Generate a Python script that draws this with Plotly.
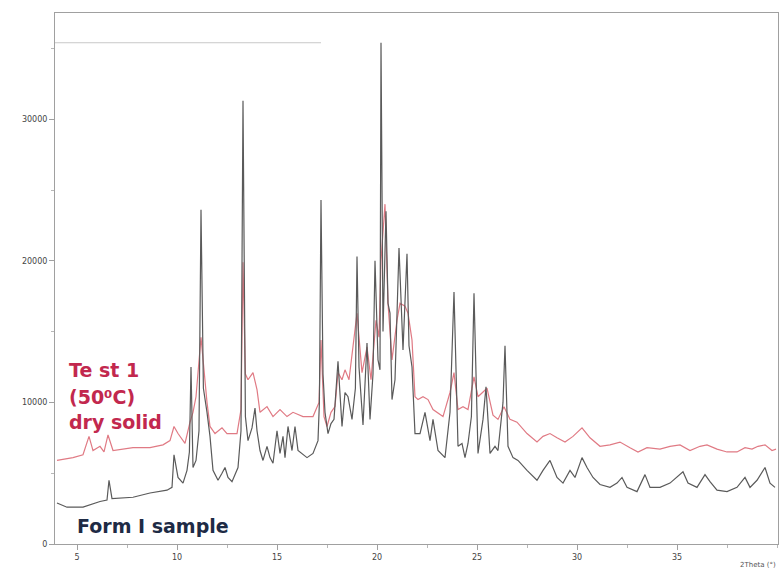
import plotly.graph_objects as go

# Powder X-ray diffraction patterns, 2-theta (degrees) vs. intensity (counts)
form1_theta = [4.0, 4.5, 5.3, 6.15, 6.5, 6.6, 6.75, 7.8, 8.65, 9.5, 9.75, 9.85, 10.05, 10.3, 10.5,
               10.62, 10.7, 10.8, 10.95, 11.1, 11.2, 11.32, 11.5, 11.65, 11.8, 12.05, 12.25, 12.4,
               12.55, 12.75, 13.05, 13.2, 13.3, 13.42, 13.55, 13.75, 13.9, 14.0, 14.15, 14.3, 14.5,
               14.65, 14.8, 15.0, 15.15, 15.3, 15.4, 15.55, 15.75, 15.9, 16.05, 16.5, 16.8, 17.05,
               17.12, 17.2, 17.3, 17.4, 17.55, 17.7, 17.85, 18.05, 18.25, 18.4, 18.55, 18.75, 18.92,
               19.0, 19.1, 19.3, 19.5, 19.65, 19.8, 19.9, 20.05, 20.15, 20.2, 20.3, 20.45, 20.55,
               20.65, 20.75, 20.9, 21.1, 21.3, 21.5, 21.6, 21.75, 21.9, 22.15, 22.4, 22.65, 22.8,
               23.05, 23.4, 23.65, 23.85, 24.05, 24.25, 24.4, 24.55, 24.72, 24.85, 25.05, 25.3,
               25.45, 25.65, 25.9, 26.05, 26.3, 26.4, 26.55, 26.8, 27.05, 27.5, 28.0, 28.3, 28.65,
               29.0, 29.3, 29.65, 29.9, 30.25, 30.5, 30.8, 31.15, 31.65, 32.0, 32.25, 32.5, 33.0,
               33.4, 33.65, 34.15, 34.65, 35.0, 35.3, 35.55, 36.0, 36.4, 36.65, 37.0, 37.5, 38.0,
               38.4, 38.65, 39.0, 39.4, 39.65, 39.9]
form1_counts = [2900, 2600, 2600, 3000, 3100, 4500, 3200, 3300, 3600, 3800, 4000, 6300, 4700, 4300,
                5200, 6500, 12500, 5400, 5900, 8000, 23600, 11000, 9300, 7600, 5200, 4500, 5000, 5400,
                4700, 4400, 5400, 8000, 31300, 9000, 7300, 8200, 9600, 8000, 6600, 5900, 6900, 6100,
                5700, 8000, 6400, 7600, 6100, 8300, 6600, 8300, 6600, 6100, 6400, 7300, 10000, 24300,
                12000, 9300, 7800, 8500, 8800, 12900, 8300, 10700, 10400, 8800, 11000, 20300, 12500,
                8400, 14200, 8800, 12000, 20000, 13000, 12300, 35400, 15000, 23500, 17000, 16300,
                10200, 11600, 20900, 13700, 20500, 14000, 12500, 7800, 7800, 9300, 7300, 8800, 6600,
                6100, 9300, 17800, 6900, 7100, 6100, 7100, 9000, 17700, 6400, 8800, 11100, 6400,
                6900, 6600, 10000, 14000, 6900, 6100, 5900, 5200, 4500, 5200, 5900, 4700, 4300, 5200,
                4700, 6100, 5400, 4700, 4200, 4000, 4300, 4700, 4000, 3700, 4900, 4000, 4000, 4300,
                4700, 5100, 4300, 4000, 4900, 4400, 3800, 3700, 4000, 4700, 4000, 4500, 5400, 4300,
                4000]

test1_theta = [4.0, 4.8, 5.3, 5.45, 5.6, 5.8, 6.15, 6.35, 6.55, 6.8, 7.8, 8.65, 9.3, 9.65, 9.85,
               10.05, 10.4, 10.65, 10.8, 10.95, 11.2, 11.5, 11.65, 11.9, 12.25, 12.5, 13.0, 13.2,
               13.3, 13.42, 13.55, 13.8, 14.0, 14.15, 14.5, 14.8, 15.15, 15.5, 15.8, 16.3, 16.8,
               17.1, 17.2, 17.35, 17.5, 17.7, 17.9, 18.05, 18.25, 18.4, 18.6, 19.0, 19.25, 19.5,
               19.7, 19.95, 20.1, 20.2, 20.4, 20.55, 20.75, 21.0, 21.15, 21.4, 21.55, 21.75, 21.9,
               22.05, 22.3, 22.55, 22.8, 23.3, 23.65, 23.85, 24.05, 24.3, 24.55, 24.85, 25.05, 25.5,
               25.8, 26.05, 26.35, 26.65, 27.0, 27.5, 28.0, 28.3, 28.65, 29.0, 29.4, 29.8, 30.25,
               30.65, 31.15, 31.65, 32.15, 32.65, 33.05, 33.5, 34.15, 34.65, 35.15, 35.65, 36.15,
               36.5, 37.0, 37.5, 38.0, 38.4, 38.75, 39.05, 39.4, 39.75, 39.95]
test1_counts = [5900, 6100, 6300, 6900, 7600, 6600, 6900, 6500, 7700, 6600, 6800, 6800, 7000, 7300,
                8300, 7800, 7100, 8600, 9300, 10400, 14600, 10000, 8300, 7800, 8200, 7800, 7800, 9500,
                19900, 12000, 11600, 12100, 10900, 9300, 9700, 9000, 9500, 9000, 9300, 9000, 9000,
                10000, 14400, 9000, 8300, 9300, 9700, 12100, 11600, 12300, 11600, 16300, 12100,
                13900, 11600, 15800, 14600, 20000, 24000, 17000, 13000, 15800, 17000, 16800, 16300,
                14400, 10400, 10200, 10400, 10200, 9500, 9000, 10700, 12100, 9500, 9700, 9500, 11800,
                10400, 11000, 9100, 8800, 9700, 8800, 8600, 7800, 7200, 7600, 7800, 7500, 7200, 7600,
                8200, 7500, 6900, 7000, 7200, 6800, 6500, 6800, 6700, 6900, 7000, 6600, 6900, 7000,
                6700, 6500, 6500, 6800, 6700, 6900, 7000, 6600, 6700]

x_ticks = [5, 10, 15, 20, 25, 30, 35]
x_tick_labels = ["5", "10", "15", "20", "25", "30", "35"]
y_ticks = [0, 10000, 20000, 30000]
y_tick_labels = ["0", "10000", "20000", "30000"]
reference_level = 35400

fig = go.Figure()
fig.add_trace(go.Scatter(x=test1_theta, y=test1_counts, mode="lines",
                         line=dict(color="#e07a84", width=1.2), showlegend=False))
fig.add_trace(go.Scatter(x=form1_theta, y=form1_counts, mode="lines",
                         line=dict(color="#5a5a5a", width=1.2), showlegend=False))

# faint horizontal level line at the top-left of the frame
fig.add_shape(type="line", xref="x", yref="y", x0=3.9, x1=17.2,
              y0=reference_level, y1=reference_level,
              line=dict(color="#c8c8c8", width=1))

axis_common = dict(showgrid=False, zeroline=False, showline=True, linecolor="#a0a0a0",
                   linewidth=1, mirror=True, ticks="outside", ticklen=5, tickcolor="#a0a0a0",
                   tickfont=dict(family="DejaVu Sans", size=8, color="#444444"))

fig.update_xaxes(range=[3.9, 40.05], tickvals=x_ticks, ticktext=x_tick_labels,
                 minor=dict(dtick=2.5, ticks="outside", ticklen=3, tickcolor="#b8b8b8"),
                 **axis_common)
fig.update_yaxes(range=[0, 37500], tickvals=y_ticks, ticktext=y_tick_labels,
                 minor=dict(dtick=5000, ticks="outside", ticklen=3, tickcolor="#b8b8b8"),
                 **axis_common)

label_font = dict(family="DejaVu Sans", size=19, color="#c2284e")
for text, yp in [("Te st 1", 0.328), ("(50⁰C)", 0.276), ("dry solid", 0.230)]:
    fig.add_annotation(text=f"<b>{text}</b>", xref="paper", yref="paper", x=0.016, y=yp,
                       xanchor="left", yanchor="middle", showarrow=False, font=label_font)

fig.add_annotation(text="<b>Form I sample</b>", xref="paper", yref="paper", x=0.027, y=0.034,
                   xanchor="left", yanchor="middle", showarrow=False,
                   font=dict(family="DejaVu Sans", size=19, color="#1e2b45"))

fig.add_annotation(text="2Theta (°)", xref="paper", yref="paper", x=1.0, y=-0.04,
                   xanchor="right", yanchor="middle", showarrow=False,
                   font=dict(family="DejaVu Sans", size=7, color="#555555"))

fig.update_layout(width=783, height=570, margin=dict(l=55, r=5, t=13, b=26),
                  paper_bgcolor="white", plot_bgcolor="white")

fig.write_html("out.html")
